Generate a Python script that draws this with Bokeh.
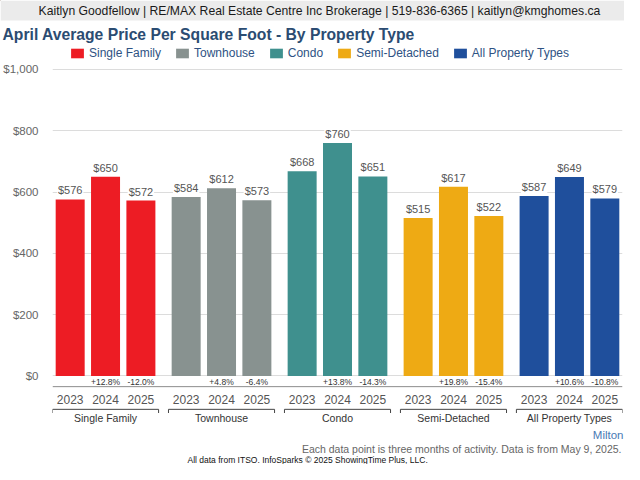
from bokeh.plotting import figure
from bokeh.models import (FactorRange, Range1d, FixedTicker, NumeralTickFormatter,
                          Span, Legend, LegendItem, ColumnDataSource)
from bokeh.layouts import column, row
from bokeh.core.properties import value
from bokeh.embed import file_html
from bokeh.resources import INLINE

# ---------------- data ----------------
header_text = "Kaitlyn Goodfellow | RE/MAX Real Estate Centre Inc Brokerage | 519-836-6365 | kaitlyn@kmghomes.ca"
title_text = "April Average Price Per Square Foot - By Property Type"
types = ["Single Family", "Townhouse", "Condo", "Semi-Detached", "All Property Types"]
years = ["2023", "2024", "2025"]
single_family = [576, 650, 572]
townhouse = [584, 612, 573]
condo = [668, 760, 651]
semi_detached = [515, 617, 522]
all_types = [587, 649, 579]
pct_single_family = ["", "+12.8%", "-12.0%"]
pct_townhouse = ["", "+4.8%", "-6.4%"]
pct_condo = ["", "+13.8%", "-14.3%"]
pct_semi_detached = ["", "+19.8%", "-15.4%"]
pct_all_types = ["", "+10.6%", "-10.8%"]
y_ticks = [0, 200, 400, 600, 800, 1000]
colors = ["#ED1C24", "#889290", "#3F908E", "#EEAA14", "#1F4F9C"]
area_text = "Milton"
note_text = "Each data point is three months of activity. Data is from May 9, 2025."
source_text = "All data from ITSO. InfoSparks \u00a9 2025 ShowingTime Plus, LLC."

series = [single_family, townhouse, condo, semi_detached, all_types]
pcts = [pct_single_family, pct_townhouse, pct_condo, pct_semi_detached, pct_all_types]

FONT = value("Liberation Sans")
W = 624
TOP_H = 60
MAIN_H = 366
FOOT_H = 464 - TOP_H - MAIN_H


def blank(h):
    f = figure(width=W, height=h, x_range=Range1d(0, W), y_range=Range1d(h, 0),
               toolbar_location=None, output_backend="svg", x_axis_type=None,
               y_axis_type=None, min_border=0, title_location=None)
    f.grid.visible = False
    f.outline_line_color = None
    return f


# ---------------- top: header band, title, legend ----------------
top = blank(TOP_H)
top.quad(left=[0], right=[W], top=[0], bottom=[20], fill_color="#EBEBEB", line_color=None)
top.text(x=[319], y=[10.5], text=[header_text], text_align="center",
         text_baseline="middle", text_font=FONT, text_font_size="12.2px",
         text_color="#1a1a1a")
top.text(x=[2], y=[34], text=[title_text], text_align="left", text_baseline="middle",
         text_font=FONT, text_font_size="15.7px", text_font_style="bold",
         text_color="#2B4C72")

items = []
for t, col in zip(types, colors):
    r = top.vbar(x=[-100], top=[-100], bottom=[-90], width=1, fill_color=col,
                 line_color=None)
    items.append(LegendItem(label=t, renderers=[r]))
legend = Legend(items=items, orientation="horizontal", location=(69, 0),
                glyph_width=16, glyph_height=12, label_standoff=4, spacing=13,
                label_text_font="Liberation Sans", label_text_font_size="12px",
                label_text_color="#2E5283", border_line_color=None,
                background_fill_alpha=0, padding=0, margin=0)
top.add_layout(legend)

# ---------------- main chart ----------------
factors = [(t, y) for t in types for y in years]
p = figure(width=W, height=MAIN_H,
           x_range=FactorRange(*factors, group_padding=0.28, range_padding=0),
           y_range=Range1d(-165, 1003),
           toolbar_location=None, output_backend="svg", x_axis_location=None,
           title_location=None,
           min_border_left=48, min_border_right=2, min_border_top=8, min_border_bottom=0)
p.outline_line_color = None
p.xgrid.visible = False
p.ygrid.grid_line_color = "#DCDCDC"
p.ygrid.ticker = FixedTicker(ticks=y_ticks)

yax = p.yaxis[0]
yax.ticker = FixedTicker(ticks=y_ticks)
yax.formatter = NumeralTickFormatter(format="$0,0")
yax.axis_line_color = None
yax.major_tick_line_color = None
yax.minor_tick_line_color = None
yax.major_label_standoff = 8
yax.major_label_text_font = "Liberation Sans"
yax.major_label_text_font_size = "11.5px"
yax.major_label_text_color = "#666666"

for t, vals, pc, col in zip(types, series, pcts, colors):
    xs = [(t, y) for y in years]
    src = ColumnDataSource(dict(x=xs, top=vals, lab=[f"${v:,}" for v in vals], pct=pc,
                                yr=years))
    p.vbar(x="x", top="top", width=0.82, source=src, fill_color=col, line_color=None)
    p.text(x="x", y="top", text="lab", source=src, text_align="center", text_baseline="bottom",
           y_offset=-2, text_font=FONT, text_font_size="11px", text_color="#555555",
           background_fill_color="white", padding=1)
    p.text(x="x", y=-21, text="pct", source=src, text_align="center", text_baseline="middle",
           text_font=FONT, text_font_size="8.5px", text_color="#333333")
    p.text(x="x", y=-77, text="yr", source=src, text_align="center", text_baseline="middle",
           text_font=FONT, text_font_size="12px", text_color="#555555")

# brackets and group labels
bx0 = [(t, years[0], -0.5) for t in types]
bx1 = [(t, years[-1], 0.5) for t in types]
p.segment(x0=bx0, y0=-109, x1=bx1, y1=-109, line_color="#444444", line_width=1)
p.segment(x0=bx0, y0=-109, x1=bx0, y1=-121, line_color="#444444", line_width=1)
p.segment(x0=bx1, y0=-109, x1=bx1, y1=-121, line_color="#444444", line_width=1)
p.text(x=[(t, years[1]) for t in types], y=-137, text=types, text_align="center",
       text_baseline="middle", text_font=FONT, text_font_size="10.5px", text_color="#333333")

# axis line below the percent labels
p.add_layout(Span(location=-35, dimension="width", line_color="#8C8C8C", line_width=1))

# ---------------- footer ----------------
foot = blank(FOOT_H)
foot.text(x=[623], y=[8], text=[area_text], text_align="right", text_baseline="middle",
          text_font=FONT, text_font_size="11.5px", text_color="#4A7AB5")
foot.text(x=[621], y=[22], text=[note_text], text_align="right", text_baseline="middle",
          text_font=FONT, text_font_size="10.5px", text_color="#666666")
foot.text(x=[187], y=[33], text=[source_text], text_align="left", text_baseline="middle",
          text_font=FONT, text_font_size="8.5px", text_color="#111111")

layout = column(row(top), p, row(foot), spacing=0)
open("out.html", "w").write(file_html(layout, INLINE))
